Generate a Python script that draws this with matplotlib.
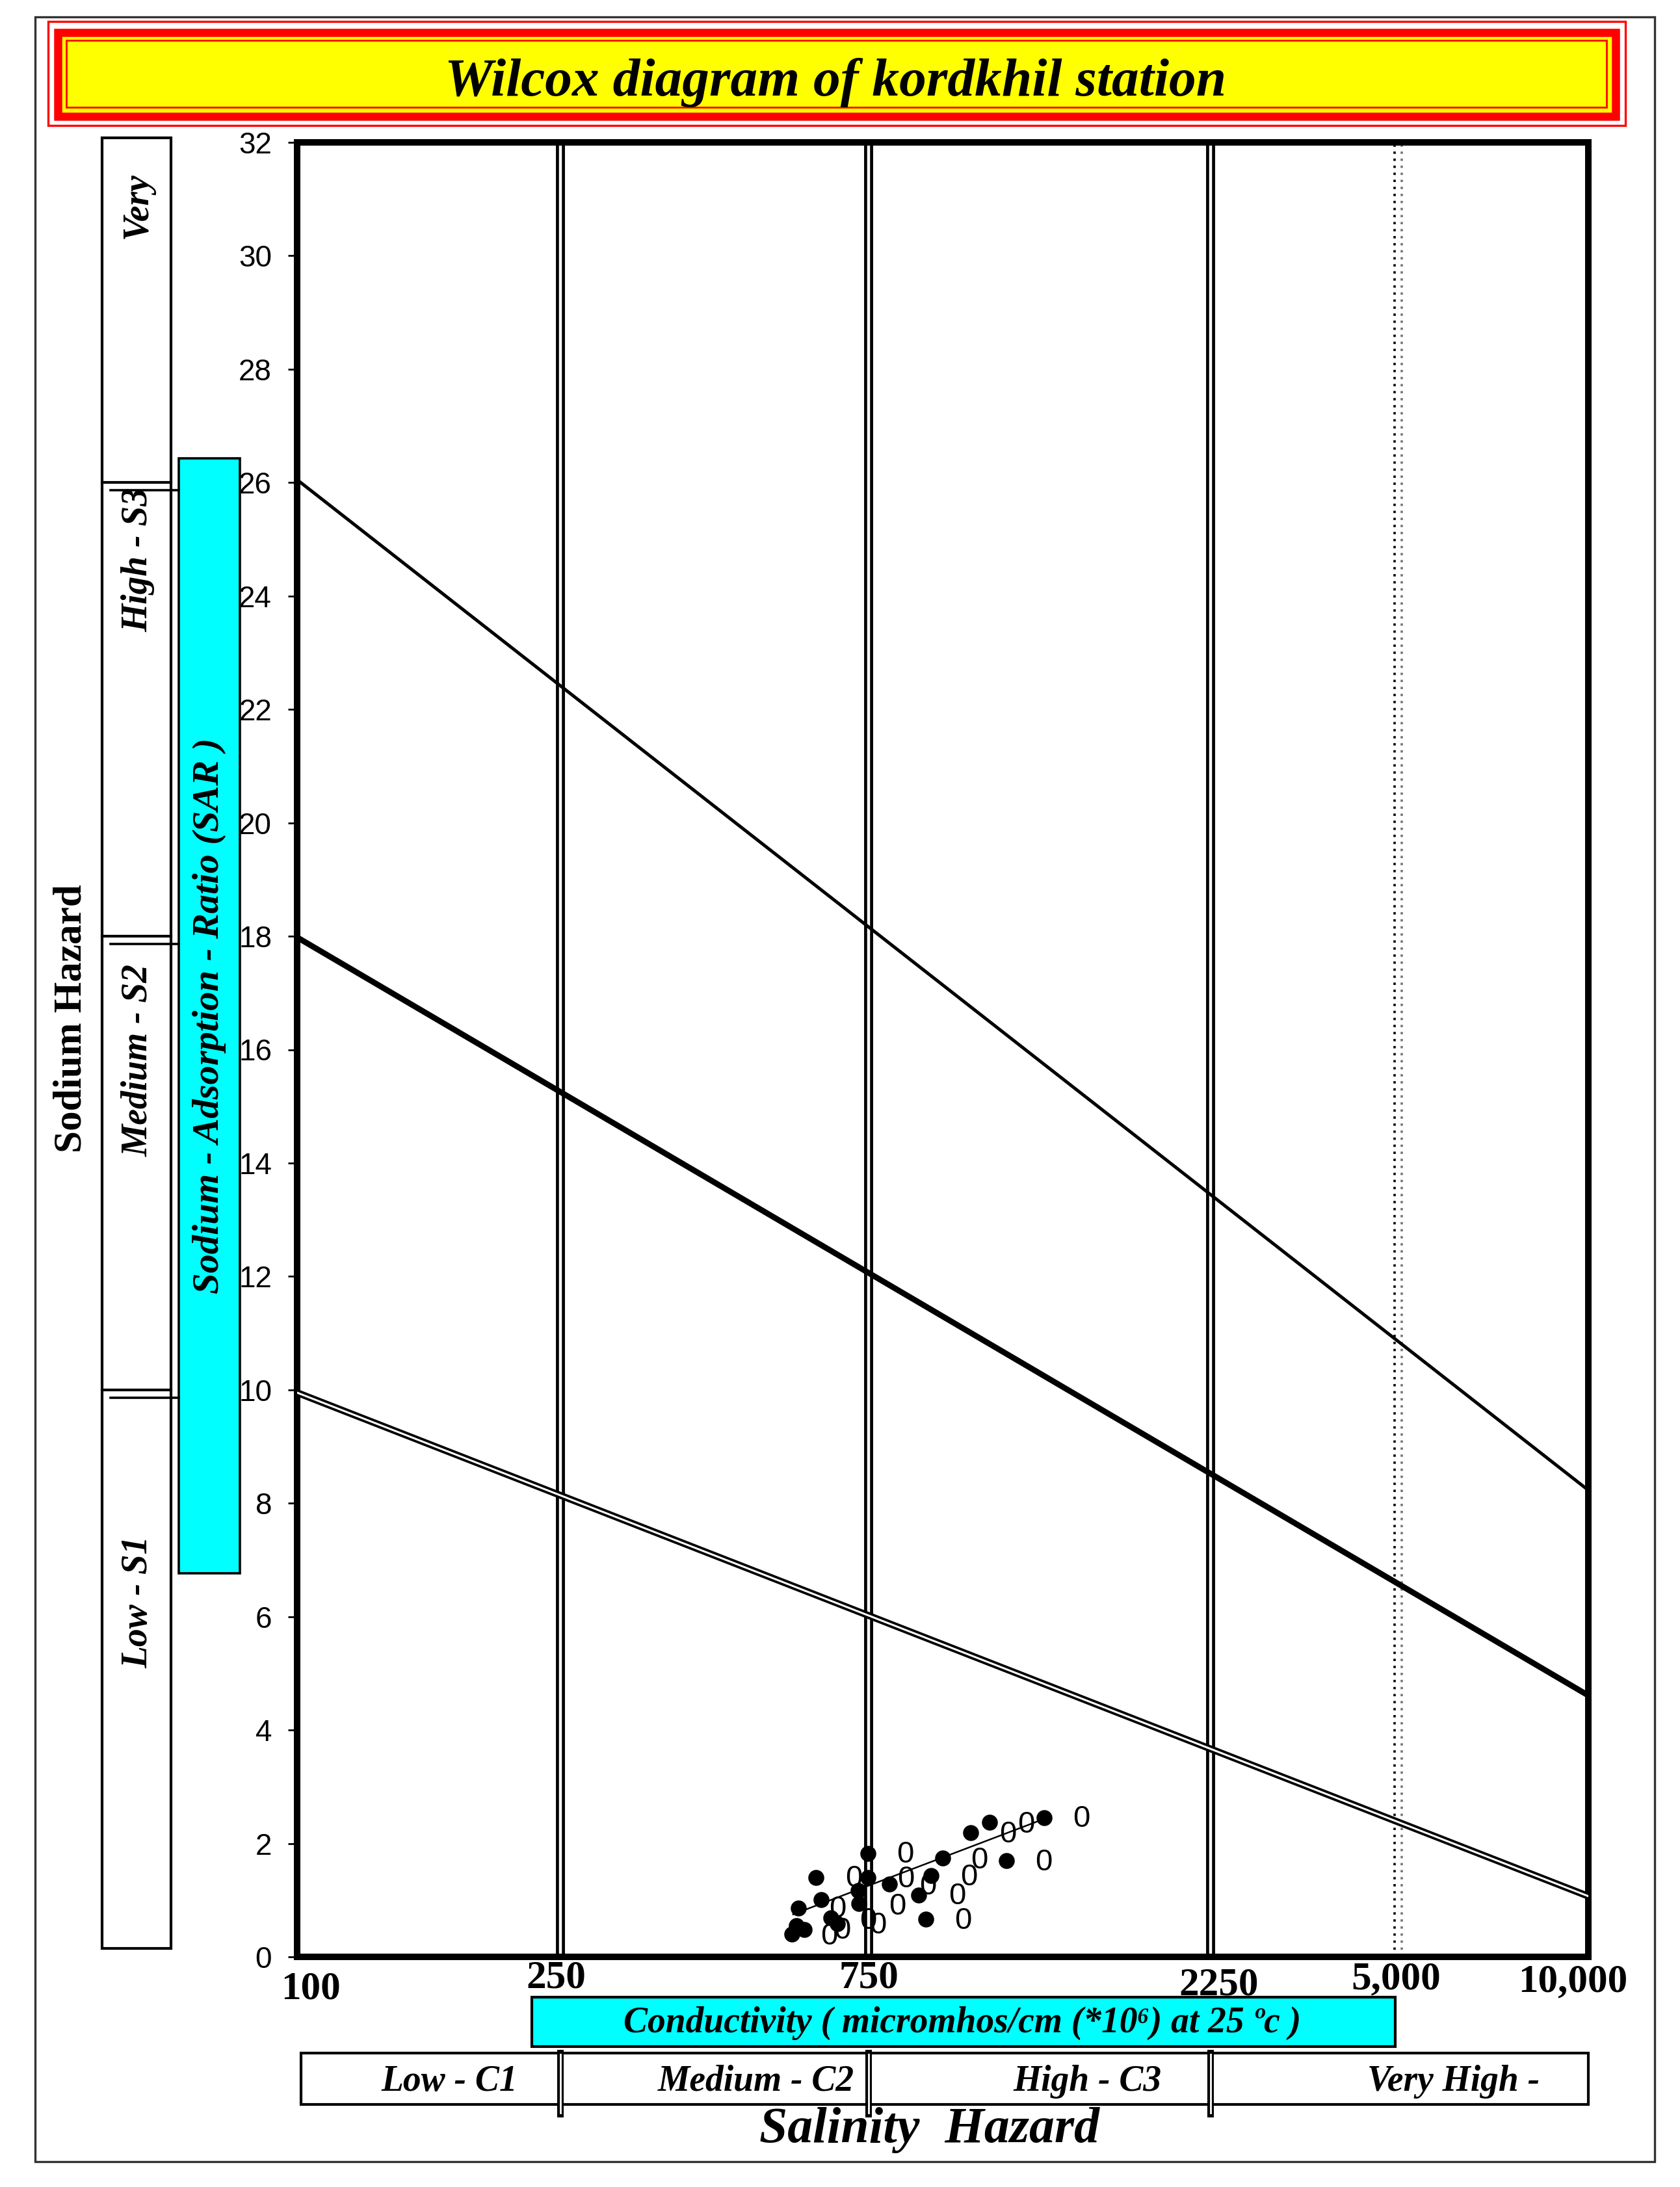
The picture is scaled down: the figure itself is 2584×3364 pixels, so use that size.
import numpy as np
import matplotlib
matplotlib.use('Agg')
import matplotlib.pyplot as plt
from matplotlib.patches import Rectangle
from matplotlib import transforms as mtransforms
from matplotlib.ticker import NullLocator

W, H = 2584, 3364
DPI = 200

# ---------------- data ----------------
TITLE = "Wilcox diagram of kordkhil station"
EC_TICKS = [100, 250, 750, 2250, 5000, 10000]
EC_TICK_LABELS = ['100', '250', '750', '2250', '5,000', '10,000']
SAR_TICKS = list(range(0, 33, 2))

SALINITY_BOUNDS = [250, 750, 2250]
DOTTED_BOUND = 5000
SODIUM_BOUNDS = [10, 18, 26]

LINE_EC = [100, 10000]
LINE_S1 = [9.95, 1.07]
LINE_S2 = [17.98, 4.61]
LINE_S3 = [26.05, 8.23]

SODIUM_CLASSES = ['Low - S1', 'Medium - S2', 'High - S3', 'Very']
SALINITY_CLASSES = ['Low - C1', 'Medium - C2', 'High - C3', 'Very High -']

DOT_EC = [584, 622, 633, 571, 580, 596, 656, 671, 723, 725, 748, 748, 802,
          881, 916, 952, 901, 1040, 1105, 1169, 1318]
DOT_SAR = [0.86, 1.40, 1.01, 0.40, 0.55, 0.48, 0.69, 0.59, 1.17, 0.94, 1.82,
           1.40, 1.28, 1.09, 1.43, 1.74, 0.67, 2.19, 2.37, 1.70, 2.45]

ZERO_EC = [1486, 1244, 1173, 1071, 1316, 1035, 996, 1017, 843, 846, 822, 907,
           712, 748, 772, 671, 651, 682]
ZERO_SAR = [2.43, 2.33, 2.16, 1.70, 1.66, 1.40, 1.07, 0.63, 1.80, 1.36, 0.88,
            1.24, 1.38, 0.63, 0.55, 0.84, 0.36, 0.46]

TREND_EC = [573, 1316]
TREND_SAR = [0.75, 2.43]

# non-uniform conductivity axis of the original diagram
SCALE_KNOTS = [100, 250, 750, 2250, 5000, 10000]
SCALE_POS = np.array([0, 405, 879, 1405, 1693, 1986]) / 1986.0

# ---------------- fonts ----------------
SERIF = ['Liberation Serif', 'DejaVu Serif']
SANS = ['Liberation Sans', 'DejaVu Sans']

LOG_K = np.log10(SCALE_KNOTS)


def fwd(x):
    x = np.asarray(x, dtype=float)
    with np.errstate(divide='ignore', invalid='ignore'):
        lx = np.log10(np.where(x > 0, x, np.nan))
    return np.interp(lx, LOG_K, SCALE_POS)


def inv(y):
    y = np.asarray(y, dtype=float)
    return 10 ** np.interp(y, SCALE_POS, LOG_K)


fig = plt.figure(figsize=(W / DPI, H / DPI), dpi=DPI)
fig.patch.set_facecolor('white')

# main axes (pixel box: x 457..2443, y 219..3010)
L, R, T, B = 457, 2443, 219, 3010
ax = fig.add_axes([L / W, 1 - B / H, (R - L) / W, (B - T) / H])
ax.set_xscale('function', functions=(fwd, inv))
ax.set_xlim(100, 10000)
ax.set_ylim(0, 32)
ax.xaxis.set_minor_locator(NullLocator())
ax.yaxis.set_minor_locator(NullLocator())
ax.set_yticks(SAR_TICKS)
ax.set_yticklabels([str(v) for v in SAR_TICKS], fontsize=16.5, family=SANS)
ax.tick_params(axis='y', direction='out', length=5, width=1.0, pad=9.0)
ax.set_xticks(EC_TICKS)
ax.set_xticklabels(EC_TICK_LABELS, fontsize=22, family=SERIF, fontweight='bold')
ax.tick_params(axis='x', length=0, pad=1.5)
for s in ax.spines.values():
    s.set_linewidth(3.6)

# per-label offsets (pixels) to match the original placement
offs = [(21, 17), (-7, 0), (0, 0), (13, 11), (-3, 2), (-24, 6)]
for lab, (dx, dy) in zip(ax.get_xticklabels(), offs):
    lab.set_transform(lab.get_transform() +
                      mtransforms.ScaledTranslation(dx / DPI, -dy / DPI, fig.dpi_scale_trans))

# salinity boundaries (double lines)
for b in SALINITY_BOUNDS:
    ax.axvline(b, color='black', lw=5.0, zorder=2)
    ax.axvline(b, color='white', lw=1.6, zorder=2.1)

# dotted double line at 5000
for dx, col in [(-5, 'black'), (6, '#777777')]:
    ax.plot([DOTTED_BOUND, DOTTED_BOUND], [0, 32], color=col, lw=1.3,
            ls=(0, (1, 2)),
            transform=ax.transData + mtransforms.ScaledTranslation(dx / DPI, 0, fig.dpi_scale_trans))

# sodium hazard lines
ax.plot(LINE_EC, LINE_S3, color='black', lw=1.8, zorder=3)
ax.plot(LINE_EC, LINE_S2, color='black', lw=3.2, zorder=3)
ax.plot(LINE_EC, LINE_S1, color='black', lw=3.8, zorder=3)
ax.plot(LINE_EC, LINE_S1, color='white', lw=1.1, zorder=3.1)

# samples
ax.plot(TREND_EC, TREND_SAR, color='black', lw=0.9, zorder=4)
ax.scatter(DOT_EC, DOT_SAR, s=78, color='black', zorder=5, linewidths=0)
for x, y in zip(ZERO_EC, ZERO_SAR):
    ax.text(x, y, '0', ha='center', va='center', fontsize=17, family=SANS,
            color='black', zorder=6)

# ---------------- overlay in pixel units ----------------
ov = fig.add_axes([0, 0, 1, 1])
ov.set_xlim(0, W)
ov.set_ylim(H, 0)
ov.axis('off')
ov.patch.set_alpha(0)

# outer frame
ov.add_patch(Rectangle((54, 26), 2491, 3299, fill=False, ec='#333333', lw=1.2))

# title box
ov.add_patch(Rectangle((74, 33), 2426, 160, fill=False, ec='red', lw=1.2))
ov.add_patch(Rectangle((89, 50), 2396, 129, fc='yellow', ec='red', lw=4.5))
ov.add_patch(Rectangle((102, 62), 2369, 103, fill=False, ec='red', lw=1.0))
ov.text(1285, 147, TITLE, ha='center', va='baseline', fontsize=30,
        family=SERIF, fontweight='bold', fontstyle='italic')

# sodium hazard column
ov.add_patch(Rectangle((157, 212), 106, 2785, fill=False, ec='black', lw=1.5))
bt = mtransforms.blended_transform_factory(ov.transData, ax.transData)
for b in SODIUM_BOUNDS:
    ov.plot([157, 263], [b, b], color='black', lw=1.5, transform=bt)
    ov.plot([170, 275], [b, b], color='black', lw=1.3,
            transform=bt + mtransforms.ScaledTranslation(0, -12 / DPI, fig.dpi_scale_trans))
for lab, yy in zip(SODIUM_CLASSES, [2464, 1631, 861, 316]):
    ov.text(212, yy, lab, rotation=90, ha='center', va='center', fontsize=20,
            family=SERIF, fontweight='bold', fontstyle='italic')
ov.text(110, 1567, 'Sodium Hazard', rotation=90, ha='center', va='center',
        fontsize=22, family=SERIF, fontweight='bold')

# SAR label box
ov.add_patch(Rectangle((275, 705), 94, 1715, fc='cyan', ec='black', lw=1.3))
ov.text(322, 1562, 'Sodium - Adsorption - Ratio (SAR )', rotation=90, ha='center',
        va='center', fontsize=21, family=SERIF, fontweight='bold', fontstyle='italic')

# conductivity box
ov.add_patch(Rectangle((818, 3072), 1328, 76, fc='cyan', ec='black', lw=1.5))
ov.text(1480, 3112, 'Conductivity ( micromhos/cm (*10\u2076) at 25 \u00bac )',
        ha='center', va='center', fontsize=20, family=SERIF,
        fontweight='bold', fontstyle='italic')

# salinity hazard classes
ov.add_patch(Rectangle((463, 3158), 1980, 79, fill=False, ec='black', lw=1.5))
bx = mtransforms.blended_transform_factory(ax.transData, ov.transData)
for b in SALINITY_BOUNDS:
    ov.plot([b, b], [3158, 3252], color='black', lw=3.6, transform=bx)
    ov.plot([b, b], [3160, 3250], color='white', lw=1.0, transform=bx)
for lab, xx in zip(SALINITY_CLASSES, [691, 1163, 1672, 2236]):
    ov.text(xx, 3202, lab, ha='center', va='center', fontsize=20,
            family=SERIF, fontweight='bold', fontstyle='italic')
ov.text(1430, 3277, 'Salinity  Hazard', ha='center', va='center', fontsize=28,
        family=SERIF, fontweight='bold', fontstyle='italic')

fig.savefig('out.png', dpi=DPI, facecolor='white')
